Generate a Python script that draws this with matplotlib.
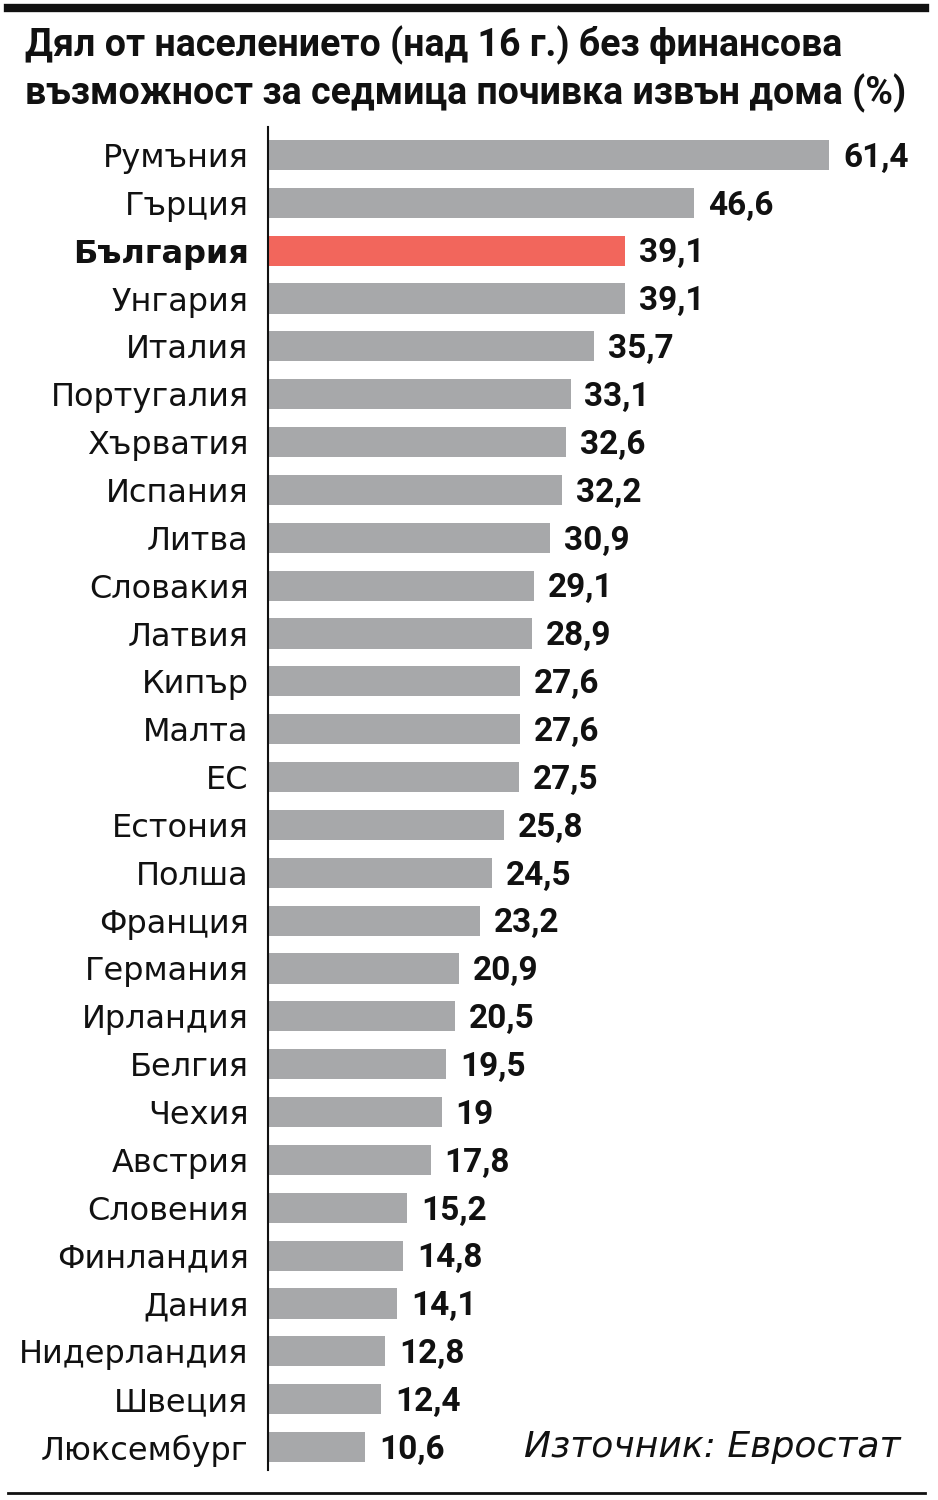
import matplotlib.pyplot as plt
from matplotlib.lines import Line2D

countries = ['Румъния', 'Гърция', 'България', 'Унгария', 'Италия', 'Португалия',
             'Хърватия', 'Испания', 'Литва', 'Словакия', 'Латвия', 'Кипър', 'Малта',
             'ЕС', 'Естония', 'Полша', 'Франция', 'Германия', 'Ирландия', 'Белгия',
             'Чехия', 'Австрия', 'Словения', 'Финландия', 'Дания', 'Нидерландия',
             'Швеция', 'Люксембург']
values = [61.4, 46.6, 39.1, 39.1, 35.7, 33.1, 32.6, 32.2, 30.9, 29.1, 28.9, 27.6, 27.6,
          27.5, 25.8, 24.5, 23.2, 20.9, 20.5, 19.5, 19, 17.8, 15.2, 14.8, 14.1, 12.8,
          12.4, 10.6]
highlight = 'България'

plt.rcParams['font.family'] = ['Roboto', 'DejaVu Sans']

W, H = 938, 1500
fig = plt.figure(figsize=(W / 100, H / 100), dpi=100)

# axes placed in pixel terms
ax_left, ax_top, ax_bottom = 268, 127, 1470
ax = fig.add_axes([ax_left / W, 1 - ax_bottom / H, (W - ax_left) / W, (ax_bottom - ax_top) / H])

gray = '#a7a8aa'
red = '#f2665c'
colors = [red if c == highlight else gray for c in countries]
ypos = list(range(len(countries)))
ax.barh(ypos, values, height=0.63, color=colors)

ax.set_xlim(0, (W - ax_left) / 9.14)
ax.set_ylim(len(countries) - 1 + 0.48, -0.585)

for y, v in zip(ypos, values):
    lab = ('%g' % v).replace('.', ',')
    ax.annotate(lab, (v, y), xytext=(10, -2), textcoords='offset points',
                ha='left', va='center', fontsize=24, fontweight='bold', color='#111111')

ax.set_yticks(ypos)
ax.set_yticklabels(countries, fontsize=23, color='#111111', family='DejaVu Sans')
for t in ax.get_yticklabels():
    if t.get_text() == highlight:
        t.set_fontweight('bold')
ax.tick_params(axis='y', length=0, pad=14)
ax.set_xticks([])
for s in ['top', 'right', 'bottom']:
    ax.spines[s].set_visible(False)
ax.spines['left'].set_linewidth(1.5)
ax.spines['left'].set_color('#111111')

fig.text(25 / W, 1 - 45 / H, 'Дял от населението (над 16 г.) без финансова',
         fontsize=27, fontweight='bold', va='center', ha='left', color='#111111')
fig.text(25 / W, 1 - 93 / H, 'възможност за седмица почивка извън дома (%)',
         fontsize=27, fontweight='bold', va='center', ha='left', color='#111111')

fig.text(900 / W, 1 - 1447 / H, 'Източник: Евростат', fontsize=26, style='italic',
         family='DejaVu Sans', ha='right', va='center', color='#111111')

fig.add_artist(Line2D([8 / W, 925 / W], [1 - 8 / H, 1 - 8 / H], color='#111111',
                      linewidth=6, transform=fig.transFigure))
fig.add_artist(Line2D([8 / W, 925 / W], [1 - 1493 / H, 1 - 1493 / H], color='#111111',
                      linewidth=2, transform=fig.transFigure))

fig.savefig('out.png', dpi=100)
